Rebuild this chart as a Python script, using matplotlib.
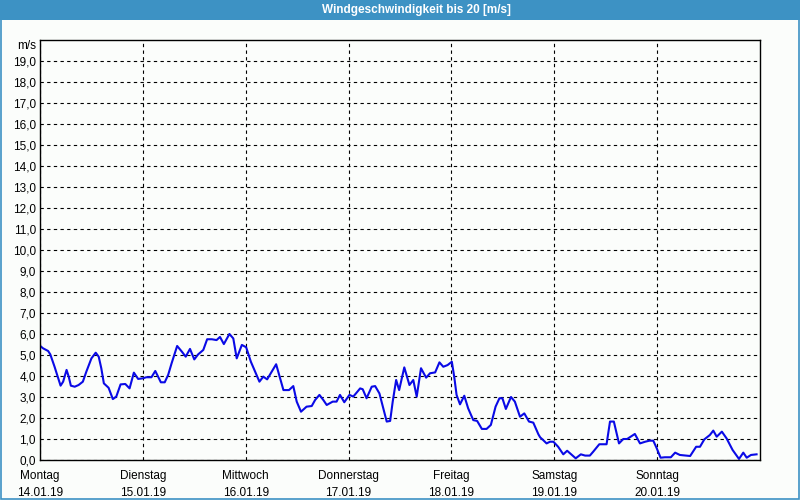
import numpy as np
import matplotlib.pyplot as plt
from matplotlib.patches import Rectangle

# Stunden seit Montag 00:00 und Windgeschwindigkeit in m/s
stunden = [0, 0.7, 1.9, 2.4, 3.4, 4.8, 5.4, 6.2, 6.7, 7.2, 8.1, 9.0, 10.0, 10.8,
           12.0, 13.0, 13.7, 14.3, 14.9, 16.0, 17.0, 17.8, 18.8, 19.9, 20.9, 21.9,
           22.9, 24.0, 24.8, 26.0, 26.9, 28.2, 29.1, 29.9, 30.7, 32.0, 33.1, 34.0,
           35.0, 36.0, 36.9, 38.1, 39.0, 40.1, 41.2, 42.0, 42.9, 44.2, 45.1, 45.9,
           47.1, 48.1, 49.2, 51.2, 52.1, 53.0, 55.1, 56.8, 58.1, 59.1, 59.9, 60.9,
           62.2, 63.4, 64.2, 65.2, 66.1, 66.9, 68.3, 69.2, 70.0, 71.0, 72.2, 73.1,
           74.7, 75.3, 76.2, 77.4, 78.2, 79.2, 80.1, 80.9, 81.7, 82.3, 83.1, 83.8,
           85.0, 86.2, 87.1, 87.9, 88.9, 90.1, 91.0, 92.2, 93.2, 94.1, 95.1, 96.1,
           96.7, 97.2, 98.0, 99.0, 99.9, 101.1, 102.0, 103.1, 104.2, 105.2, 106.3,
           107.2, 107.9, 108.7, 109.9, 110.8, 112.0, 113.0, 114.1, 115.1, 116.3,
           116.7, 117.4, 118.2, 119.0, 119.8, 120.9, 122.1, 123.0, 124.1, 125.0,
           126.2, 127.2, 128.3, 129.1, 130.5, 132.2, 133.0, 133.9, 135.1, 136.1,
           137.0, 138.8, 140.0, 141.2, 142.2, 143.1, 143.9, 144.8, 145.8, 147.2,
           148.2, 149.3, 151.7, 153.1, 154.0, 155.0, 156.3, 157.1, 157.9, 159.1,
           160.2, 161.6, 163.1, 164.1, 164.9, 165.9, 167.2]
wind = [5.44, 5.32, 5.19, 5.03, 4.44, 3.54, 3.73, 4.29, 3.97, 3.54, 3.49, 3.57,
        3.73, 4.2, 4.84, 5.11, 4.92, 4.37, 3.65, 3.44, 2.9, 3.02, 3.6, 3.62, 3.41,
        4.16, 3.86, 3.89, 3.94, 3.94, 4.24, 3.7, 3.7, 4.05, 4.6, 5.43, 5.16, 4.92,
        5.29, 4.79, 5.03, 5.24, 5.75, 5.75, 5.71, 5.86, 5.52, 6.0, 5.79, 4.84,
        5.48, 5.37, 4.68, 3.73, 3.97, 3.84, 4.56, 3.33, 3.33, 3.52, 2.78, 2.3,
        2.54, 2.57, 2.86, 3.1, 2.86, 2.62, 2.78, 2.78, 3.1, 2.75, 3.1, 3.02,
        3.41, 3.37, 2.94, 3.49, 3.52, 3.17, 2.46, 1.83, 1.86, 2.78, 3.81, 3.33,
        4.41, 3.57, 3.81, 3.02, 4.37, 3.92, 4.13, 4.17, 4.65, 4.44, 4.52, 4.68,
        3.89, 3.1, 2.65, 3.06, 2.46, 1.9, 1.86, 1.48, 1.48, 1.67, 2.54,
        2.94, 2.94, 2.43, 3.0, 2.78, 2.06, 2.22, 1.83, 1.78, 1.22,
        1.08, 0.95, 0.79, 0.87, 0.87, 0.63, 0.27, 0.44, 0.24, 0.08,
        0.27, 0.21, 0.21, 0.4, 0.75, 0.75, 1.83, 1.83, 0.79, 1.0,
        1.0, 1.24, 0.79, 0.87, 0.92, 0.92, 0.56, 0.11, 0.13, 0.13,
        0.35, 0.24, 0.19, 0.63, 0.63, 0.98, 1.19, 1.4, 1.11, 1.35,
        1.03, 0.48, 0.05, 0.35, 0.11, 0.24, 0.27]

tage = ['Montag', 'Dienstag', 'Mittwoch', 'Donnerstag', 'Freitag', 'Samstag', 'Sonntag']
daten = ['14.01.19', '15.01.19', '16.01.19', '17.01.19', '18.01.19', '19.01.19', '20.01.19']

bg = '#fbfdfb'
blau_rahmen = '#3d92c4'

plt.rcParams['font.family'] = ['Liberation Sans', 'DejaVu Sans']

fig = plt.figure(figsize=(8, 5), dpi=100, facecolor=bg)
ax = fig.add_axes([40/800, 40/500, 720/800, 420/500], facecolor=bg)

ax.plot(stunden, wind, color='#0a0ae6', linewidth=1.5)

ax.set_xlim(0, 168)
ax.set_ylim(0, 20)

ax.set_yticks(np.arange(0, 20))
ax.set_yticklabels([f'{v},0' for v in range(20)])
ax.set_xticks(np.arange(0, 168, 24))
ax.set_xticklabels([f'{t}\n{d}' for t, d in zip(tage, daten)], linespacing=1.55)
ax.tick_params(axis='both', length=0, labelsize=8.5)
ax.tick_params(axis='y', pad=3)
ax.tick_params(axis='x', pad=7)

ax.grid(True, color='black', linestyle=(0, (3, 3)), linewidth=0.8)
for s in ax.spines.values():
    s.set_color('black')
    s.set_linewidth(1.0)

ax.text(-0.005, 19.7, 'm/s', ha='right', va='center', fontsize=8.5,
        transform=ax.get_yaxis_transform())

# Titelleiste und Fensterrahmen
fig.patches.append(Rectangle((0, 1 - 20/500), 1, 20/500, transform=fig.transFigure,
                             facecolor=blau_rahmen, edgecolor='none', zorder=0))
fig.patches.append(Rectangle((0.6/800, 0.6/500), 798.8/800, 1 - 1.2/500, transform=fig.transFigure,
                             facecolor='none', edgecolor=blau_rahmen, linewidth=1.2, zorder=0))
fig.text(416/800, 1 - 10/500, 'Windgeschwindigkeit bis 20 [m/s]', color='white',
         fontsize=8.5, fontweight='bold', ha='center', va='center')

fig.savefig('out.png', dpi=100, facecolor=bg)
